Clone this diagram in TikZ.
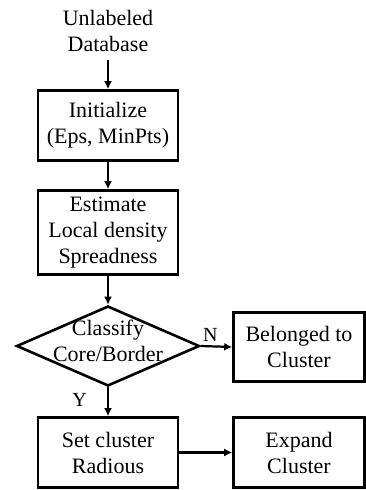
\documentclass[tikz,border=0pt]{standalone}
\usepackage{fontspec}
\setmainfont{Liberation Serif}
\usetikzlibrary{shapes.geometric,arrows.meta}
\begin{document}
\begin{tikzpicture}[x=1pt,y=-1pt,
  every node/.style={font=\fontsize{22}{26}\selectfont, align=center, inner sep=0pt},
  boxnode/.style={draw, line width=2.6pt, minimum width=140pt},
  conn/.style={line width=2.2pt, -{Latex[length=8pt,width=8pt]}},
  lbl/.style={font=\fontsize{20}{22}\selectfont}]
\useasboundingbox (0,0) rectangle (366,490);
\node (db) at (108,31) {Unlabeled\\Database};
\node[boxnode, minimum height=70pt] (init) at (108,125.5) {Initialize\\(Eps, MinPts)};
\node[boxnode, minimum height=84pt] (est) at (108,232.5) {Estimate\\Local density\\Spreadness};
\node[diamond, draw, line width=2.6pt, minimum width=183pt, minimum height=80pt, aspect=2.3] (cls) at (108,346) {};
\node at (108,341) {Classify\\Core/Border};
\node[boxnode, minimum width=131pt, minimum height=69pt] (bel) at (299,347) {Belonged to\\Cluster};
\node[boxnode, minimum height=70pt] (set) at (108,452.5) {Set cluster\\Radious};
\node[boxnode, minimum width=131pt, minimum height=70pt] (exp) at (299,452.5) {Expand\\Cluster};
\coordinate (dbb) at (108,60);
\draw[conn] (dbb) -- (init.north);
\draw[conn] (init.south) -- (est.north);
\draw[conn] (est.south) -- (cls.north);
\draw[conn] (cls.east) -- (bel.west) node[lbl, pos=0.3, above=4pt] {N};
\draw[conn] (cls.south) -- (set.north) node[lbl, pos=0.45, left=20pt] {Y};
\draw[conn] (set.east) -- (exp.west);
\end{tikzpicture}
\end{document}
